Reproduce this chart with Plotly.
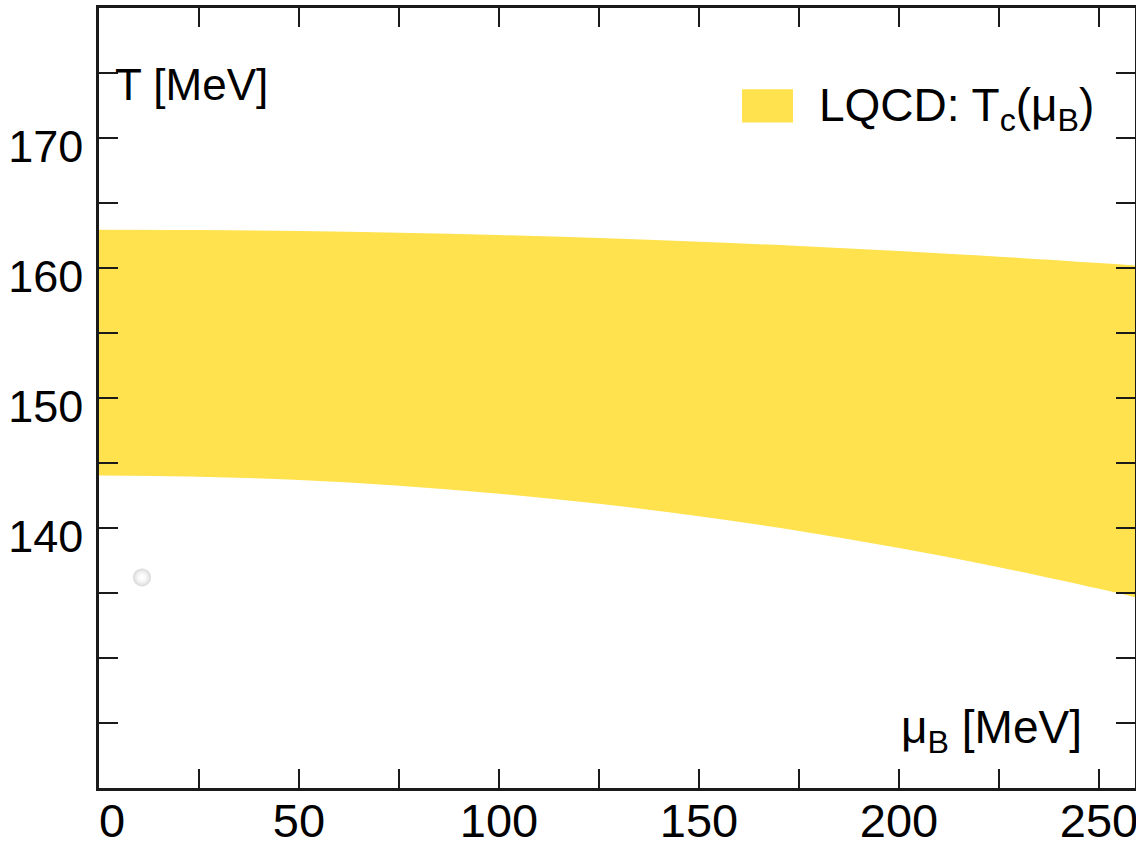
import plotly.graph_objects as go

# Lattice QCD pseudo-critical temperature band T_c(mu_B)
mu_b = [0, 25, 50, 75, 100, 125, 150, 175, 200, 225, 250, 260]
tc_upper = [162.94, 162.92, 162.84, 162.71, 162.53, 162.30, 162.02, 161.69, 161.30, 160.87, 160.38, 160.17]
tc_lower = [144.04, 143.95, 143.69, 143.25, 142.64, 141.86, 140.90, 139.77, 138.46, 136.98, 135.32, 134.61]

# faint stray point near the lower left
spot_mu = [10.75]
spot_t = [136.2]

x_ticks = [0, 25, 50, 75, 100, 125, 150, 175, 200, 225, 250]
x_labels = ["&nbsp;&nbsp;0", "", "50", "", "100", "", "150", "", "200", "", "250"]
y_ticks = [120, 125, 130, 135, 140, 145, 150, 155, 160, 165, 170, 175, 180]
y_labels = ["", "", "", "", "140", "", "150", "", "160", "", "170", "", ""]

BAND = "#FFE24D"
FONT = "Liberation Sans"
AX = "#1a1a1a"

fig = go.Figure()
fig.add_trace(go.Scatter(
    x=mu_b, y=tc_lower, mode="lines", line=dict(width=0, color=BAND, shape="spline"),
    showlegend=False, hoverinfo="skip"))
fig.add_trace(go.Scatter(
    x=mu_b, y=tc_upper, mode="lines", line=dict(width=0, color=BAND, shape="spline"),
    fill="tonexty", fillcolor=BAND, name="LQCD: T_c(mu_B)", showlegend=False))
fig.add_trace(go.Scatter(
    x=spot_mu, y=spot_t, mode="markers", opacity=0.8,
    marker=dict(size=18, color="#cccccc", line=dict(width=0, color="rgba(255,255,255,0)"),
                gradient=dict(type="radial", color="rgba(255,255,255,0)")),
    showlegend=False, hoverinfo="skip"))

axis_common = dict(
    showline=True, linecolor=AX, linewidth=2.5, mirror="ticks",
    ticks="inside", ticklen=19, tickwidth=2, tickcolor=AX,
    showgrid=False, zeroline=False, automargin=False,
    ticklabeloverflow="allow",
)

fig.update_xaxes(
    range=[0, 259], tickmode="array", tickvals=x_ticks, ticktext=x_labels,
    tickfont=dict(family=FONT, size=47, color="black"),
    ticklabelstandoff=-10, **axis_common)
fig.update_yaxes(
    range=[120, 180], tickmode="array", tickvals=y_ticks, ticktext=y_labels,
    tickfont=dict(family=FONT, size=45, color="black"),
    ticklabelshift=8, ticklabelstandoff=4, **axis_common)

# axis titles placed inside the frame
fig.add_annotation(x=3.5, y=174.1, xref="x", yref="y", text="T [MeV]",
                   showarrow=False, xanchor="left", yanchor="middle",
                   font=dict(family=FONT, size=44, color="black"))
fig.add_annotation(x=246.3, y=124.45, xref="x", yref="y", text="μ<sub>B</sub> [MeV]",
                   showarrow=False, xanchor="right", yanchor="middle",
                   font=dict(family=FONT, size=46, color="black"))

# legend entry
fig.add_shape(type="rect", xref="x", yref="y", x0=160.75, x1=173.5, y0=171.2, y1=173.75,
              fillcolor=BAND, line=dict(width=0))
fig.add_annotation(x=179.5, y=172.3, xref="x", yref="y",
                   text="LQCD: T<sub>c</sub>(μ<sub>B</sub>)",
                   showarrow=False, xanchor="left", yanchor="middle",
                   font=dict(family=FONT, size=46, color="black"))

fig.update_layout(
    width=1136, height=843,
    margin=dict(l=99, r=1, t=8, b=55),
    paper_bgcolor="white", plot_bgcolor="white",
    font=dict(family=FONT, color="black"),
    showlegend=False,
)

fig.write_html("out.html")
